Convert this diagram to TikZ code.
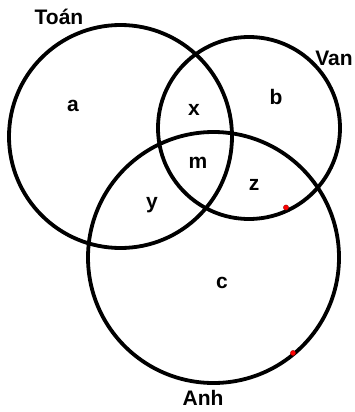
\documentclass[tikz,border=0pt]{standalone}
\usepackage{fontspec}
\setmainfont{Liberation Sans}
\usepackage{xcolor}

\begin{document}
\begin{tikzpicture}[x=1pt,y=-1pt,line width=3.8pt]
\tikzset{lbl/.style={font=\fontsize{21}{21}\selectfont\bfseries,inner sep=0pt}}
\useasboundingbox (0,0) rectangle (354,412);
\coordinate (ctoan) at (120.5,136.5);
\coordinate (cvan) at (249,128);
\coordinate (canh) at (213.5,257.5);
\draw (ctoan) circle (111.5);
\draw (cvan) circle (91);
\draw (canh) circle (125.5);
\fill[red,draw=red!60!black,line width=0.4pt] (286,207.5) circle (2.6);
\fill[red,draw=red!60!black,line width=0.4pt] (293,353) circle (2.6);

\node[lbl] (toan) at (59,17) {Toán};
\node[lbl] (van) at (334,58) {Van};
\node[lbl] (anh) at (203,398) {Anh};
\node[lbl] (a) at (73,106) {a};
\node[lbl] (x) at (194,110) {x};
\node[lbl] (b) at (276,97) {b};
\node[lbl] (m) at (198,163) {m};
\node[lbl] (z) at (254,185) {z};
\node[lbl] (y) at (152,205) {y};
\node[lbl] (c) at (222,283) {c};
\end{tikzpicture}
\end{document}
